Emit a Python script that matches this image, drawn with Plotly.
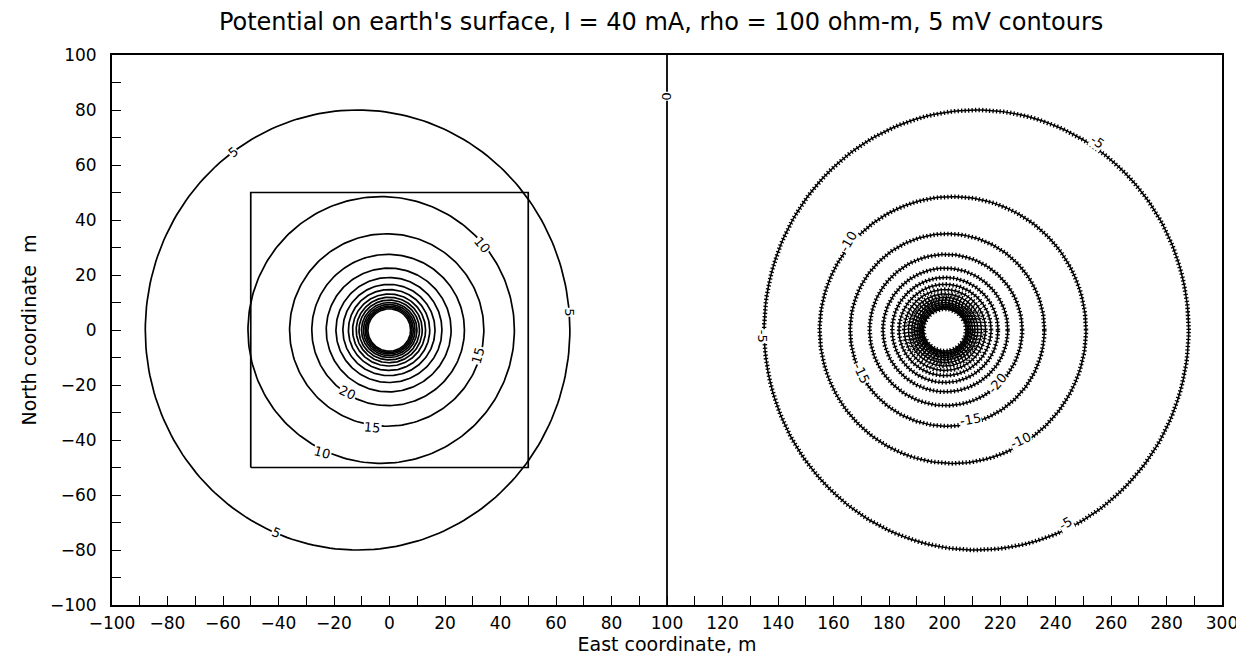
import numpy as np
import plotly.graph_objects as go

# ---- data ----
pos_levels = [5, 10, 15, 20, 25, 30, 35, 40, 45, 50, 55, 60, 65, 70, 75, 80]
pos_west = [-88, -51, -36, -28, -22.8, -19.3, -16.8, -14.8, -13.3, -12.0, -11.0, -10.1, -9.4, -8.8, -8.3, -7.8]
pos_east = [65, 45, 34, 27, 22.2, 18.9, 16.4, 14.5, 13.0, 11.8, 10.8, 9.9, 9.2, 8.6, 8.1, 7.6]
pos_north = [80, 48.5, 35, 27.5, 22.5, 19.1, 16.6, 14.7, 13.1, 11.9, 10.9, 10.0, 9.3, 8.7, 8.2, 7.7]

neg_levels = [-5, -10, -15, -20, -25, -30, -35, -40, -45, -50, -55, -60, -65, -70, -75, -80]
neg_west = [135, 155, 166, 173, 177.8, 181.1, 183.6, 185.5, 187.0, 188.2, 189.2, 190.1, 190.8, 191.4, 191.9, 192.4]
neg_east = [288, 251, 236, 228, 222.8, 219.3, 216.8, 214.8, 213.3, 212.0, 211.0, 210.1, 209.4, 208.8, 208.3, 207.8]
neg_north = [80, 48.5, 35, 27.5, 22.5, 19.1, 16.6, 14.7, 13.1, 11.9, 10.9, 10.0, 9.3, 8.7, 8.2, 7.7]

zero_x = 100

box_x = [-50, 50]
box_y = [-50, 50]

# contour labels: text, x, y, angle
label_text = ["5", "5", "5", "10", "15", "20", "15", "10",
              "-5", "-5", "-5", "-10", "-15", "-20", "-15", "-10", "0"]
label_x = [-56.5, 65, -41, 33.6, 31.8, -15.3, -6.3, -24.3,
           255, 243.6, 134.2, 165.4, 170.2, 219, 209.3, 227.3, 100]
label_y = [64.7, 6.5, -73.8, 30.9, -9.1, -22.9, -35.3, -44.4,
           68.5, -70.3, -2.4, 32.1, -15.7, -19.5, -32.7, -40, 85]
label_angle = [-40, 90, 22, 50, -75, 25, 5, 15,
               35, -30, 90, -60, 65, -50, -10, -25, 90]

title_text = "Potential on earth's surface, I = 40 mA, rho = 100 ohm-m, 5 mV contours"
x_title = "East coordinate, m"
y_title = "North coordinate  m"

fig = go.Figure()

t = np.linspace(0, 2 * np.pi, 241)


def ring(w, e, n):
    cx = (w + e) / 2.0
    a = (e - w) / 2.0
    return cx + a * np.cos(t), n * np.sin(t)


for lev, w, e, n in zip(pos_levels, pos_west, pos_east, pos_north):
    xs, ys = ring(w, e, n)
    fig.add_trace(go.Scatter(x=xs, y=ys, mode="lines",
                             line=dict(color="black", width=1.7),
                             hoverinfo="skip", showlegend=False))

for lev, w, e, n in zip(neg_levels, neg_west, neg_east, neg_north):
    xs, ys = ring(w, e, n)
    fig.add_trace(go.Scatter(x=xs, y=ys, mode="lines",
                             line=dict(color="black", width=1.5),
                             hoverinfo="skip", showlegend=False))
    fig.add_trace(go.Scatter(x=xs, y=ys, mode="lines",
                             line=dict(color="black", width=4.5, dash="1.3px,2.2px"),
                             hoverinfo="skip", showlegend=False))

# zero contour
fig.add_trace(go.Scatter(x=[zero_x, zero_x], y=[-100, 100], mode="lines",
                         line=dict(color="black", width=1.8),
                         hoverinfo="skip", showlegend=False))

# square
fig.add_trace(go.Scatter(x=[box_x[0], box_x[1], box_x[1], box_x[0], box_x[0]],
                         y=[box_y[0], box_y[0], box_y[1], box_y[1], box_y[0]],
                         mode="lines", line=dict(color="black", width=1.7),
                         hoverinfo="skip", showlegend=False))

for txt, lx, ly, ang in zip(label_text, label_x, label_y, label_angle):
    fig.add_annotation(x=lx, y=ly, text=txt, showarrow=False, textangle=ang,
                       font=dict(family="DejaVu Sans", size=13, color="black"),
                       bgcolor="white", borderpad=0)

fig.update_layout(
    width=1244, height=665,
    margin=dict(l=104, r=30, t=47, b=68, autoexpand=False),
    paper_bgcolor="white", plot_bgcolor="white",
    title=dict(text=title_text, x=0.525, xanchor="center", y=0.979, yanchor="middle",
               font=dict(family="DejaVu Sans", size=24, color="black")),
    font=dict(family="DejaVu Sans", color="black"),
)

fig.update_xaxes(range=[-100, 300], dtick=20, tick0=-100, ticks="inside", ticklen=9,
                 tickwidth=1.4, tickcolor="black", automargin=False,
                 minor=dict(dtick=10, ticks="inside", ticklen=9, tickwidth=1.4, tickcolor="black"),
                 showline=True, linecolor="black", linewidth=1.8, mirror=True,
                 showgrid=False, zeroline=False, ticklabelstandoff=2,
                 tickfont=dict(family="DejaVu Sans", size=17),
                 title=dict(text=x_title, font=dict(family="DejaVu Sans", size=19), standoff=2))
fig.update_yaxes(range=[-100, 100], dtick=20, tick0=-100, ticks="inside", ticklen=9,
                 tickwidth=1.4, tickcolor="black", automargin=False,
                 minor=dict(dtick=10, ticks="inside", ticklen=9, tickwidth=1.4, tickcolor="black"),
                 showline=True, linecolor="black", linewidth=1.8, mirror=True,
                 showgrid=False, zeroline=False, ticklabelstandoff=10,
                 tickfont=dict(family="DejaVu Sans", size=17),
                 title=dict(text=y_title, font=dict(family="DejaVu Sans", size=19), standoff=8))

fig.write_html("out.html")
